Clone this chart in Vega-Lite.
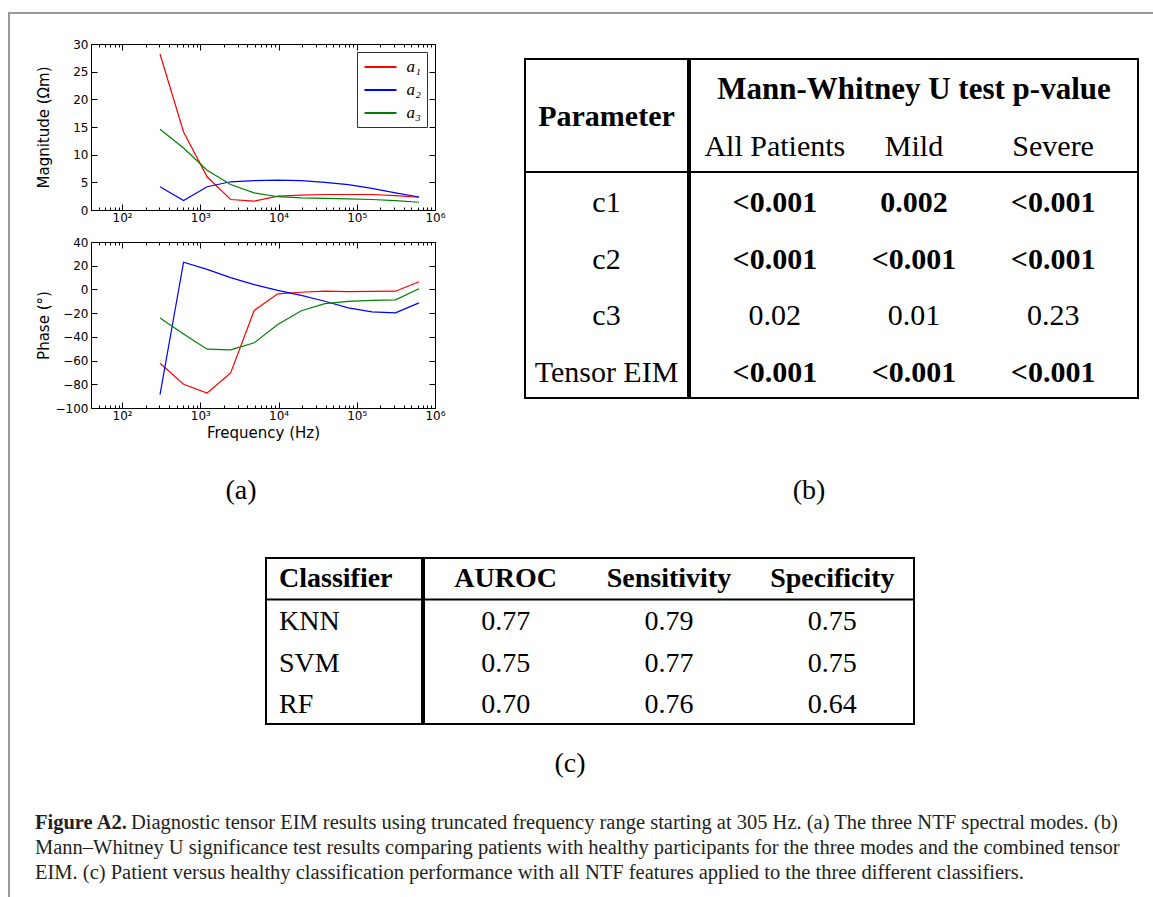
{
  "$schema": "https://vega.github.io/schema/vega-lite/v6.json",
  "padding": {"left": 8, "top": 12, "right": 0, "bottom": 0},
  "background": "white",
  "config": {"view": {"stroke": null}},
  "datasets": {
    "modes": [
      {"freq": 305, "mode": "a₁", "magnitude": 28.2, "phase": -62.3},
      {"freq": 610, "mode": "a₁", "magnitude": 14.1, "phase": -80.0},
      {"freq": 1220, "mode": "a₁", "magnitude": 6.0, "phase": -87.3},
      {"freq": 2440, "mode": "a₁", "magnitude": 1.9, "phase": -70.4},
      {"freq": 4880, "mode": "a₁", "magnitude": 1.6, "phase": -17.7},
      {"freq": 9760, "mode": "a₁", "magnitude": 2.5, "phase": -3.7},
      {"freq": 19520, "mode": "a₁", "magnitude": 2.7, "phase": -2.4},
      {"freq": 39040, "mode": "a₁", "magnitude": 2.8, "phase": -1.4},
      {"freq": 78080, "mode": "a₁", "magnitude": 2.8, "phase": -1.8},
      {"freq": 156160, "mode": "a₁", "magnitude": 2.8, "phase": -1.6},
      {"freq": 312320, "mode": "a₁", "magnitude": 2.6, "phase": -1.5},
      {"freq": 624640, "mode": "a₁", "magnitude": 2.3, "phase": 6.5},
      {"freq": 305, "mode": "a₂", "magnitude": 4.2, "phase": -88.7},
      {"freq": 610, "mode": "a₂", "magnitude": 1.7, "phase": 23.0},
      {"freq": 1220, "mode": "a₂", "magnitude": 4.2, "phase": 16.9},
      {"freq": 2440, "mode": "a₂", "magnitude": 5.1, "phase": 9.9},
      {"freq": 4880, "mode": "a₂", "magnitude": 5.3, "phase": 4.0},
      {"freq": 9760, "mode": "a₂", "magnitude": 5.4, "phase": -0.8},
      {"freq": 19520, "mode": "a₂", "magnitude": 5.3, "phase": -5.0},
      {"freq": 39040, "mode": "a₂", "magnitude": 5.0, "phase": -10.0},
      {"freq": 78080, "mode": "a₂", "magnitude": 4.6, "phase": -15.5},
      {"freq": 156160, "mode": "a₂", "magnitude": 3.9, "phase": -19.0},
      {"freq": 312320, "mode": "a₂", "magnitude": 3.1, "phase": -19.8},
      {"freq": 624640, "mode": "a₂", "magnitude": 2.35, "phase": -11.3},
      {"freq": 305, "mode": "a₃", "magnitude": 14.6, "phase": -24.2},
      {"freq": 610, "mode": "a₃", "magnitude": 11.2, "phase": -37.5},
      {"freq": 1220, "mode": "a₃", "magnitude": 7.2, "phase": -50.4},
      {"freq": 2440, "mode": "a₃", "magnitude": 4.6, "phase": -51.0},
      {"freq": 4880, "mode": "a₃", "magnitude": 3.1, "phase": -45.0},
      {"freq": 9760, "mode": "a₃", "magnitude": 2.4, "phase": -29.6},
      {"freq": 19520, "mode": "a₃", "magnitude": 2.2, "phase": -18.0},
      {"freq": 39040, "mode": "a₃", "magnitude": 2.1, "phase": -12.0},
      {"freq": 78080, "mode": "a₃", "magnitude": 2.0, "phase": -10.0},
      {"freq": 156160, "mode": "a₃", "magnitude": 1.9, "phase": -9.3},
      {"freq": 312320, "mode": "a₃", "magnitude": 1.7, "phase": -8.8},
      {"freq": 624640, "mode": "a₃", "magnitude": 1.4, "phase": 0.6}
    ],
    "pvals": [
      {"param": "c1", "All Patients": "<0.001", "Mild": "0.002", "Severe": "<0.001"},
      {"param": "c2", "All Patients": "<0.001", "Mild": "<0.001", "Severe": "<0.001"},
      {"param": "c3", "All Patients": "0.02", "Mild": "0.01", "Severe": "0.23"},
      {"param": "Tensor EIM", "All Patients": "<0.001", "Mild": "<0.001", "Severe": "<0.001"}
    ],
    "classifiers": [
      {"Classifier": "KNN", "AUROC": "0.77", "Sensitivity": "0.79", "Specificity": "0.75"},
      {"Classifier": "SVM", "AUROC": "0.75", "Sensitivity": "0.77", "Specificity": "0.75"},
      {"Classifier": "RF", "AUROC": "0.70", "Sensitivity": "0.76", "Specificity": "0.64"}
    ],
    "caption": [
      {"line": 1, "part": "lead", "text": "Figure A2."},
      {"line": 1, "part": "rest", "text": "Diagnostic tensor EIM results using truncated frequency range starting at 305 Hz. (a) The three NTF spectral modes. (b)"},
      {"line": 2, "part": "body", "text": "Mann–Whitney U significance test results comparing patients with healthy participants for the three modes and the combined tensor"},
      {"line": 3, "part": "body", "text": "EIM. (c) Patient versus healthy classification performance with all NTF features applied to the three different classifiers."}
    ]
  },
  "spacing": 0,
  "hconcat": [
    {"width": 2, "height": 885, "view": {"fill": "#999999", "stroke": null}, "data": {"values": []}, "mark": "rule", "encoding": {}},
    {
      "spacing": 23,
      "vconcat": [
        {"width": 1143, "height": 2, "view": {"fill": "#999999", "stroke": null}, "data": {"values": []}, "mark": "rule", "encoding": {}},
        {
          "spacing": 24,
          "hconcat": [
            {"width": 1, "height": 1, "data": {"values": []}, "mark": "rule", "encoding": {}},
            {
              "spacing": 24,
              "vconcat": [
                {
                  "spacing": 77,
                  "hconcat": [
                    {
                      "spacing": 8,
                      "resolve": {"scale": {"color": "independent"}, "legend": {"color": "independent"}},
                      "vconcat": [
                        {
                          "width": 344, "height": 166,
                          "view": {"stroke": "black", "strokeWidth": 1},
                          "data": {"name": "modes"},
                          "resolve": {"axis": {"x": "independent", "y": "independent"}},
                          "layer": [
                            {
                              "mark": {"type": "line", "strokeWidth": 1.2},
                              "encoding": {
                                "x": {"field": "freq", "type": "quantitative", "scale": {"type": "log", "domain": [40, 1000000], "nice": false},
                                  "axis": {"orient": "bottom", "title": null, "values": [50,60,70,80,90,100,200,300,400,500,600,700,800,900,1000,2000,3000,4000,5000,6000,7000,8000,9000,10000,20000,30000,40000,50000,60000,70000,80000,90000,100000,200000,300000,400000,500000,600000,700000,800000,900000,1000000],
                                    "labelExpr": "datum.value == 100 ? '10²' : datum.value == 1000 ? '10³' : datum.value == 10000 ? '10⁴' : datum.value == 100000 ? '10⁵' : datum.value == 1000000 ? '10⁶' : ''",
                                    "tickSize": {"condition": {"test": "indexof([100,1000,10000,100000,1000000], datum.value) >= 0", "value": -6}, "value": -3},
                                    "tickColor": "black", "tickWidth": 1, "domain": false, "grid": false, "labelFlush": false, "labelOverlap": false,
                                    "labelFont": "DejaVu Sans", "labelFontSize": 12, "labelColor": "black", "labelPadding": 8}},
                                "y": {"field": "magnitude", "type": "quantitative", "scale": {"domain": [0, 30], "nice": false, "zero": false},
                                  "axis": {"orient": "left", "title": "Magnitude (Ωm)", "values": [0,5,10,15,20,25,30], "tickSize": -6, "tickColor": "black", "domain": false, "grid": false,
                                    "labelFont": "DejaVu Sans", "labelFontSize": 12, "labelColor": "black", "labelPadding": 9, "minExtent": 36, "maxExtent": 36,
                                    "titleFont": "DejaVu Sans", "titleFontSize": 15, "titleFontWeight": "normal", "titleColor": "black", "titlePadding": 4}},
                                "color": {"field": "mode", "type": "nominal", "scale": {"domain": ["a₁","a₂","a₃"], "range": ["#ff0000","#0000ff","#008000"]},
                                  "legend": {"title": null, "orient": "top-right", "offset": 8, "symbolType": "M-2,0H2", "symbolSize": 256, "symbolStrokeWidth": 2, "symbolOffset": 8.5,
                                    "labelFont": "Liberation Serif", "labelFontStyle": "italic", "labelFontSize": 17, "labelColor": "black",
                                    "strokeColor": "#333333", "fillColor": "white", "padding": 6, "rowPadding": 6, "labelOffset": 17, "cornerRadius": 0}}
                              }
                            },
                            {
                              "mark": {"type": "point", "opacity": 0},
                              "encoding": {
                                "x": {"field": "freq", "type": "quantitative", "scale": {"type": "log", "domain": [40, 1000000], "nice": false},
                                  "axis": {"orient": "top", "title": null, "labels": false, "values": [50,60,70,80,90,100,200,300,400,500,600,700,800,900,1000,2000,3000,4000,5000,6000,7000,8000,9000,10000,20000,30000,40000,50000,60000,70000,80000,90000,100000,200000,300000,400000,500000,600000,700000,800000,900000,1000000],
                                    "tickSize": {"condition": {"test": "indexof([100,1000,10000,100000,1000000], datum.value) >= 0", "value": -6}, "value": -3},
                                    "tickColor": "black", "domain": false, "grid": false}},
                                "y": {"field": "magnitude", "type": "quantitative", "scale": {"domain": [0, 30], "nice": false, "zero": false},
                                  "axis": {"orient": "right", "title": null, "labels": false, "values": [0,5,10,15,20,25,30], "tickSize": -6, "tickColor": "black", "domain": false, "grid": false}}
                              }
                            }
                          ]
                        },
                        {
                          "width": 344, "height": 166,
                          "view": {"stroke": "black", "strokeWidth": 1},
                          "data": {"name": "modes"},
                          "resolve": {"axis": {"x": "independent", "y": "independent"}},
                          "layer": [
                            {
                              "mark": {"type": "line", "strokeWidth": 1.2},
                              "encoding": {
                                "x": {"field": "freq", "type": "quantitative", "scale": {"type": "log", "domain": [40, 1000000], "nice": false},
                                  "axis": {"orient": "bottom", "title": "Frequency (Hz)", "values": [50,60,70,80,90,100,200,300,400,500,600,700,800,900,1000,2000,3000,4000,5000,6000,7000,8000,9000,10000,20000,30000,40000,50000,60000,70000,80000,90000,100000,200000,300000,400000,500000,600000,700000,800000,900000,1000000],
                                    "labelExpr": "datum.value == 100 ? '10²' : datum.value == 1000 ? '10³' : datum.value == 10000 ? '10⁴' : datum.value == 100000 ? '10⁵' : datum.value == 1000000 ? '10⁶' : ''",
                                    "tickSize": {"condition": {"test": "indexof([100,1000,10000,100000,1000000], datum.value) >= 0", "value": -6}, "value": -3},
                                    "tickColor": "black", "tickWidth": 1, "domain": false, "grid": false, "labelFlush": false, "labelOverlap": false,
                                    "labelFont": "DejaVu Sans", "labelFontSize": 12, "labelColor": "black", "labelPadding": 8,
                                    "titleFont": "DejaVu Sans", "titleFontSize": 15, "titleFontWeight": "normal", "titleColor": "black", "titlePadding": 1}},
                                "y": {"field": "phase", "type": "quantitative", "scale": {"domain": [-100, 40], "nice": false, "zero": false},
                                  "axis": {"orient": "left", "title": "Phase (°)", "values": [-100,-80,-60,-40,-20,0,20,40], "tickSize": -6, "tickColor": "black", "domain": false, "grid": false,
                                    "labelFont": "DejaVu Sans", "labelFontSize": 12, "labelColor": "black", "labelPadding": 9, "minExtent": 36, "maxExtent": 36,
                                    "titleFont": "DejaVu Sans", "titleFontSize": 15, "titleFontWeight": "normal", "titleColor": "black", "titlePadding": 4}},
                                "color": {"field": "mode", "type": "nominal", "scale": {"domain": ["a₁","a₂","a₃"], "range": ["#ff0000","#0000ff","#008000"]}, "legend": null}
                              }
                            },
                            {
                              "mark": {"type": "point", "opacity": 0},
                              "encoding": {
                                "x": {"field": "freq", "type": "quantitative", "scale": {"type": "log", "domain": [40, 1000000], "nice": false},
                                  "axis": {"orient": "top", "title": null, "labels": false, "values": [50,60,70,80,90,100,200,300,400,500,600,700,800,900,1000,2000,3000,4000,5000,6000,7000,8000,9000,10000,20000,30000,40000,50000,60000,70000,80000,90000,100000,200000,300000,400000,500000,600000,700000,800000,900000,1000000],
                                    "tickSize": {"condition": {"test": "indexof([100,1000,10000,100000,1000000], datum.value) >= 0", "value": -6}, "value": -3},
                                    "tickColor": "black", "domain": false, "grid": false}},
                                "y": {"field": "phase", "type": "quantitative", "scale": {"domain": [-100, 40], "nice": false, "zero": false},
                                  "axis": {"orient": "right", "title": null, "labels": false, "values": [-100,-80,-60,-40,-20,0,20,40], "tickSize": -6, "tickColor": "black", "domain": false, "grid": false}}
                              }
                            }
                          ]
                        },
                        {"width": 300, "height": 84, "data": {"values": [{"t": "(a)"}]},
                         "mark": {"type": "text", "font": "Liberation Serif", "fontSize": 28, "baseline": "middle", "color": "black"},
                         "encoding": {"text": {"field": "t"}}}
                      ]
                    },
                    {
                      "spacing": 57,
                      "vconcat": [
                        {
                          "spacing": 13,
                          "vconcat": [
                            {"width": 1, "height": 1, "data": {"values": []}, "mark": "rule", "encoding": {}},
                            {
                              "spacing": -2,
                              "hconcat": [
                                {
                                  "width": 163, "height": 339,
                                  "view": {"stroke": "black", "strokeWidth": 2},
                                  "layer": [
                                    {"data": {"values": [{"h": "Parameter"}]},
                                     "mark": {"type": "text", "font": "Liberation Serif", "fontSize": 30, "fontWeight": "bold", "baseline": "middle", "color": "black", "dy": 1},
                                     "encoding": {"y": {"datum": "h2", "type": "nominal", "bandPosition": 0, "scale": {"type": "band", "domain": ["h1","h2","c1","c2","c3","Tensor EIM"], "paddingInner": 0, "paddingOuter": 0}, "axis": null},
                                       "text": {"field": "h"}}},
                                    {"data": {"name": "pvals"},
                                     "mark": {"type": "text", "font": "Liberation Serif", "fontSize": 30, "baseline": "middle", "color": "black", "dy": 3},
                                     "encoding": {"y": {"field": "param", "type": "nominal", "scale": {"type": "band", "domain": ["h1","h2","c1","c2","c3","Tensor EIM"], "paddingInner": 0, "paddingOuter": 0}, "axis": null},
                                       "text": {"field": "param"}}},
                                    {"data": {"values": [{"r": "c1"}]},
                                     "mark": {"type": "rule", "strokeWidth": 2, "color": "black"},
                                     "encoding": {"y": {"field": "r", "type": "nominal", "bandPosition": 0, "scale": {"type": "band", "domain": ["h1","h2","c1","c2","c3","Tensor EIM"], "paddingInner": 0, "paddingOuter": 0}, "axis": null}}}
                                  ]
                                },
                                {
                                  "width": 448, "height": 339,
                                  "view": {"stroke": "black", "strokeWidth": 2},
                                  "layer": [
                                    {"data": {"values": [{"h": "Mann-Whitney U test p-value"}]},
                                     "mark": {"type": "text", "font": "Liberation Serif", "fontSize": 31, "fontWeight": "bold", "baseline": "middle", "color": "black", "dy": 3},
                                     "encoding": {"y": {"datum": "h1", "type": "nominal", "scale": {"type": "band", "domain": ["h1","h2","c1","c2","c3","Tensor EIM"], "paddingInner": 0, "paddingOuter": 0}, "axis": null},
                                       "text": {"field": "h"}}},
                                    {"data": {"values": [{"c": "All Patients"}, {"c": "Mild"}, {"c": "Severe"}]},
                                     "mark": {"type": "text", "font": "Liberation Serif", "fontSize": 30, "baseline": "middle", "color": "black", "dy": 3},
                                     "encoding": {"x": {"field": "c", "type": "nominal", "scale": {"type": "band", "domain": ["All Patients","Mild","Severe"], "paddingInner": 0, "paddingOuter": 0.11}, "axis": null},
                                       "y": {"datum": "h2", "type": "nominal", "scale": {"type": "band", "domain": ["h1","h2","c1","c2","c3","Tensor EIM"], "paddingInner": 0, "paddingOuter": 0}, "axis": null},
                                       "text": {"field": "c"}}},
                                    {"data": {"name": "pvals"},
                                     "transform": [{"fold": ["All Patients","Mild","Severe"], "as": ["col","p"]}, {"filter": "datum.param != 'c3'"}],
                                     "mark": {"type": "text", "font": "Liberation Serif", "fontSize": 30, "fontWeight": "bold", "baseline": "middle", "color": "black", "dy": 3},
                                     "encoding": {"x": {"field": "col", "type": "nominal", "scale": {"type": "band", "domain": ["All Patients","Mild","Severe"], "paddingInner": 0, "paddingOuter": 0.11}, "axis": null},
                                       "y": {"field": "param", "type": "nominal", "scale": {"type": "band", "domain": ["h1","h2","c1","c2","c3","Tensor EIM"], "paddingInner": 0, "paddingOuter": 0}, "axis": null},
                                       "text": {"field": "p"}}},
                                    {"data": {"name": "pvals"},
                                     "transform": [{"fold": ["All Patients","Mild","Severe"], "as": ["col","p"]}, {"filter": "datum.param == 'c3'"}],
                                     "mark": {"type": "text", "font": "Liberation Serif", "fontSize": 30, "baseline": "middle", "color": "black", "dy": 3},
                                     "encoding": {"x": {"field": "col", "type": "nominal", "scale": {"type": "band", "domain": ["All Patients","Mild","Severe"], "paddingInner": 0, "paddingOuter": 0.11}, "axis": null},
                                       "y": {"field": "param", "type": "nominal", "scale": {"type": "band", "domain": ["h1","h2","c1","c2","c3","Tensor EIM"], "paddingInner": 0, "paddingOuter": 0}, "axis": null},
                                       "text": {"field": "p"}}},
                                    {"data": {"values": [{"r": "c1"}]},
                                     "mark": {"type": "rule", "strokeWidth": 2, "color": "black"},
                                     "encoding": {"y": {"field": "r", "type": "nominal", "bandPosition": 0, "scale": {"type": "band", "domain": ["h1","h2","c1","c2","c3","Tensor EIM"], "paddingInner": 0, "paddingOuter": 0}, "axis": null}}}
                                  ]
                                }
                              ]
                            }
                          ]
                        },
                        {"width": 568, "height": 70, "data": {"values": [{"t": "(b)"}]},
                         "mark": {"type": "text", "font": "Liberation Serif", "fontSize": 28, "baseline": "middle", "color": "black"},
                         "encoding": {"text": {"field": "t"}}}
                      ]
                    }
                  ]
                },
                {
                  "spacing": 172,
                  "hconcat": [
                    {"width": 1, "height": 1, "data": {"values": []}, "mark": "rule", "encoding": {}},
                    {
                      "spacing": 15,
                      "vconcat": [
                        {
                          "spacing": -2,
                          "hconcat": [
                            {
                              "width": 156, "height": 166,
                              "view": {"stroke": "black", "strokeWidth": 2},
                              "layer": [
                                {"data": {"values": [{"h": "Classifier"}]},
                                 "mark": {"type": "text", "font": "Liberation Serif", "fontSize": 28, "fontWeight": "bold", "baseline": "middle", "align": "left", "color": "black"},
                                 "encoding": {"x": {"datum": "Classifier", "type": "nominal", "bandPosition": 0, "scale": {"type": "band", "paddingInner": 0, "paddingOuter": 0.1}, "axis": null},
                                   "y": {"datum": "header", "type": "nominal", "scale": {"type": "band", "domain": ["header","KNN","SVM","RF"], "paddingInner": 0, "paddingOuter": 0}, "axis": null},
                                   "text": {"field": "h"}}},
                                {"data": {"name": "classifiers"},
                                 "mark": {"type": "text", "font": "Liberation Serif", "fontSize": 28, "baseline": "middle", "align": "left", "color": "black", "dy": 2},
                                 "encoding": {"x": {"datum": "Classifier", "type": "nominal", "bandPosition": 0, "scale": {"type": "band", "paddingInner": 0, "paddingOuter": 0.1}, "axis": null},
                                   "y": {"field": "Classifier", "type": "nominal", "scale": {"type": "band", "domain": ["header","KNN","SVM","RF"], "paddingInner": 0, "paddingOuter": 0}, "axis": null},
                                   "text": {"field": "Classifier"}}},
                                {"data": {"values": [{"r": "KNN"}]},
                                 "mark": {"type": "rule", "strokeWidth": 2, "color": "black"},
                                 "encoding": {"y": {"field": "r", "type": "nominal", "bandPosition": 0, "scale": {"type": "band", "domain": ["header","KNN","SVM","RF"], "paddingInner": 0, "paddingOuter": 0}, "axis": null}}}
                              ]
                            },
                            {
                              "width": 490, "height": 166,
                              "view": {"stroke": "black", "strokeWidth": 2},
                              "layer": [
                                {"data": {"values": [{"h": "AUROC"}, {"h": "Sensitivity"}, {"h": "Specificity"}]},
                                 "mark": {"type": "text", "font": "Liberation Serif", "fontSize": 28, "fontWeight": "bold", "baseline": "middle", "color": "black"},
                                 "encoding": {"x": {"field": "h", "type": "nominal", "scale": {"type": "band", "domain": ["AUROC","Sensitivity","Specificity"], "paddingInner": 0, "paddingOuter": 0}, "axis": null},
                                   "y": {"datum": "header", "type": "nominal", "scale": {"type": "band", "domain": ["header","KNN","SVM","RF"], "paddingInner": 0, "paddingOuter": 0}, "axis": null},
                                   "text": {"field": "h"}}},
                                {"data": {"name": "classifiers"},
                                 "transform": [{"fold": ["AUROC","Sensitivity","Specificity"], "as": ["metric","v"]}],
                                 "mark": {"type": "text", "font": "Liberation Serif", "fontSize": 28, "baseline": "middle", "color": "black", "dy": 2},
                                 "encoding": {"x": {"field": "metric", "type": "nominal", "scale": {"type": "band", "domain": ["AUROC","Sensitivity","Specificity"], "paddingInner": 0, "paddingOuter": 0}, "axis": null},
                                   "y": {"field": "Classifier", "type": "nominal", "scale": {"type": "band", "domain": ["header","KNN","SVM","RF"], "paddingInner": 0, "paddingOuter": 0}, "axis": null},
                                   "text": {"field": "v"}}},
                                {"data": {"values": [{"r": "KNN"}]},
                                 "mark": {"type": "rule", "strokeWidth": 2, "color": "black"},
                                 "encoding": {"y": {"field": "r", "type": "nominal", "bandPosition": 0, "scale": {"type": "band", "domain": ["header","KNN","SVM","RF"], "paddingInner": 0, "paddingOuter": 0}, "axis": null}}}
                              ]
                            }
                          ]
                        },
                        {"width": 608, "height": 47, "data": {"values": [{"t": "(c)"}]},
                         "mark": {"type": "text", "font": "Liberation Serif", "fontSize": 28, "baseline": "middle", "color": "black"},
                         "encoding": {"text": {"field": "t"}}}
                      ]
                    }
                  ]
                }
              ]
            }
          ]
        },
        {
          "spacing": 24,
          "hconcat": [
            {"width": 1, "height": 1, "data": {"values": []}, "mark": "rule", "encoding": {}},
            {
              "width": 1100, "height": 75,
              "data": {"name": "caption"},
              "layer": [
                {"transform": [{"filter": "datum.part == 'lead'"}],
                 "mark": {"type": "text", "font": "Liberation Serif", "fontSize": 20.5, "fontWeight": "bold", "baseline": "middle", "align": "left", "color": "#231f20"},
                 "encoding": {"x": {"datum": "left", "type": "nominal", "bandPosition": 0, "scale": {"type": "band", "paddingInner": 0, "paddingOuter": 0}, "axis": null},
                   "y": {"field": "line", "type": "ordinal", "scale": {"type": "band", "domain": [1,2,3], "paddingInner": 0, "paddingOuter": 0}, "axis": null},
                   "text": {"field": "text"}}},
                {"transform": [{"filter": "datum.part == 'rest'"}],
                 "mark": {"type": "text", "font": "Liberation Serif", "fontSize": 20.5, "baseline": "middle", "align": "left", "color": "#231f20", "dx": 96},
                 "encoding": {"x": {"datum": "left", "type": "nominal", "bandPosition": 0, "scale": {"type": "band", "paddingInner": 0, "paddingOuter": 0}, "axis": null},
                   "y": {"field": "line", "type": "ordinal", "scale": {"type": "band", "domain": [1,2,3], "paddingInner": 0, "paddingOuter": 0}, "axis": null},
                   "text": {"field": "text"}}},
                {"transform": [{"filter": "datum.part == 'body'"}],
                 "mark": {"type": "text", "font": "Liberation Serif", "fontSize": 20.5, "baseline": "middle", "align": "left", "color": "#231f20"},
                 "encoding": {"x": {"datum": "left", "type": "nominal", "bandPosition": 0, "scale": {"type": "band", "paddingInner": 0, "paddingOuter": 0}, "axis": null},
                   "y": {"field": "line", "type": "ordinal", "scale": {"type": "band", "domain": [1,2,3], "paddingInner": 0, "paddingOuter": 0}, "axis": null},
                   "text": {"field": "text"}}}
              ]
            }
          ]
        }
      ]
    }
  ]
}
